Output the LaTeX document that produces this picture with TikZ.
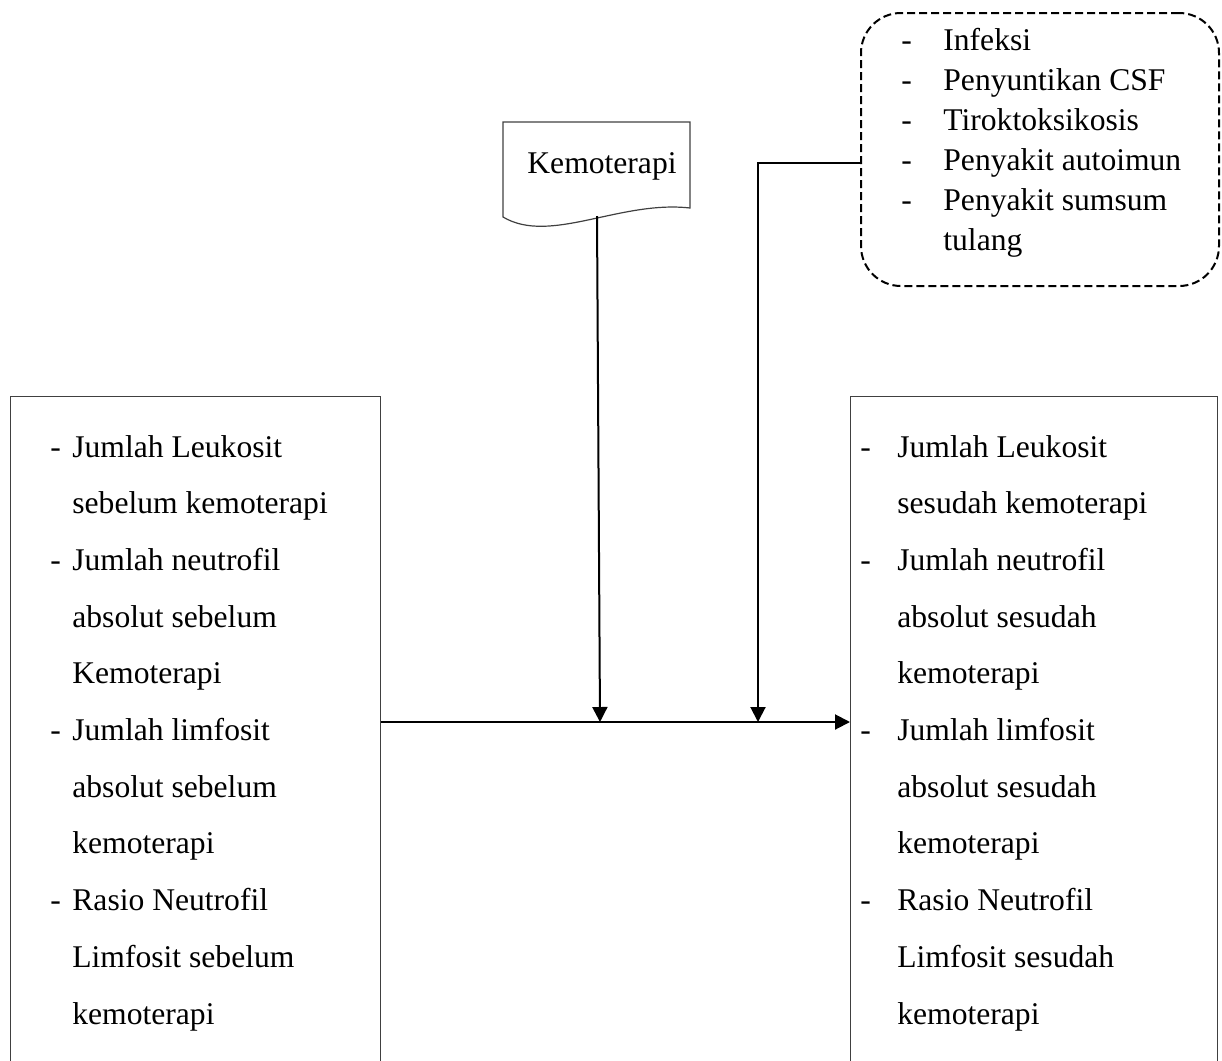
\documentclass[tikz,border=0pt]{standalone}
\usepackage{fontspec}
\setmainfont{Liberation Serif}
\usetikzlibrary{arrows.meta}

\begin{document}
\begin{tikzpicture}[x=0.5pt,y=-0.5pt,
    varbox/.style={draw=black!75,line width=0.6pt,minimum height=350pt,inner sep=0pt,anchor=north west},
    listtext/.style={anchor=base west,inner sep=0pt,font=\fontsize{15.8}{28.35}\selectfont},
    flow/.style={line width=1pt,-{Triangle[length=7.5pt,width=7.5pt]}}]
                \useasboundingbox (0,0) rectangle (1222,1061);

                \node[varbox,minimum width=185pt] (pre) at (10,396) {};
                \node[varbox,minimum width=183.5pt] (post) at (850,396) {};
                \node[draw,line width=1pt,dash pattern=on 4pt off 2pt,rounded corners=20pt,
                      minimum width=179pt,minimum height=136.5pt,inner sep=0pt,anchor=north west] (cond) at (860,12) {};

                \node[listtext] (pretext) at (50,457) {\begin{tabular}[t]{@{}p{11pt}@{}l@{}}
                    -&Jumlah Leukosit\\ &sebelum kemoterapi\\
                    -&Jumlah neutrofil\\ &absolut sebelum\\ &Kemoterapi\\
                    -&Jumlah limfosit\\ &absolut sebelum\\ &kemoterapi\\
                    -&Rasio Neutrofil\\ &Limfosit sebelum\\ &kemoterapi
                    \end{tabular}};
                \node[listtext] (posttext) at (860,457) {\begin{tabular}[t]{@{}p{18.5pt}@{}l@{}}
                    -&Jumlah Leukosit\\ &sesudah kemoterapi\\
                    -&Jumlah neutrofil\\ &absolut sesudah\\ &kemoterapi\\
                    -&Jumlah limfosit\\ &absolut sesudah\\ &kemoterapi\\
                    -&Rasio Neutrofil\\ &Limfosit sesudah\\ &kemoterapi
                    \end{tabular}};
                \node[listtext,font=\fontsize{15.8}{20}\selectfont] (condtext) at (901,50) {\begin{tabular}[t]{@{}p{21pt}@{}l@{}}
                    -&Infeksi\\ -&Penyuntikan CSF\\ -&Tiroktoksikosis\\
                    -&Penyakit autoimun\\ -&Penyakit sumsum\\ &tulang
                    \end{tabular}};

                \node[anchor=base,inner sep=0pt,font=\fontsize{15.8}{19}\selectfont] (kemo) at (602,173) {Kemoterapi};
                \draw[line width=0.6pt,draw=black!75] (503,122) -- (690,122) -- (690,208)
                    .. controls (620,200) and (550,245) .. (503,217) -- cycle;

                \coordinate (kemotail) at (597,216);
                \coordinate (kemohit) at (600,722);
                \coordinate (condtail) at (860,163);
                \coordinate (condhit) at (758,722);

                \draw[flow] (kemotail) -- (kemohit);
                \draw[flow] (condtail) -| (condhit);
                \draw[flow] (pre.east |- kemohit) -- (post.west |- kemohit);
\end{tikzpicture}
\end{document}
